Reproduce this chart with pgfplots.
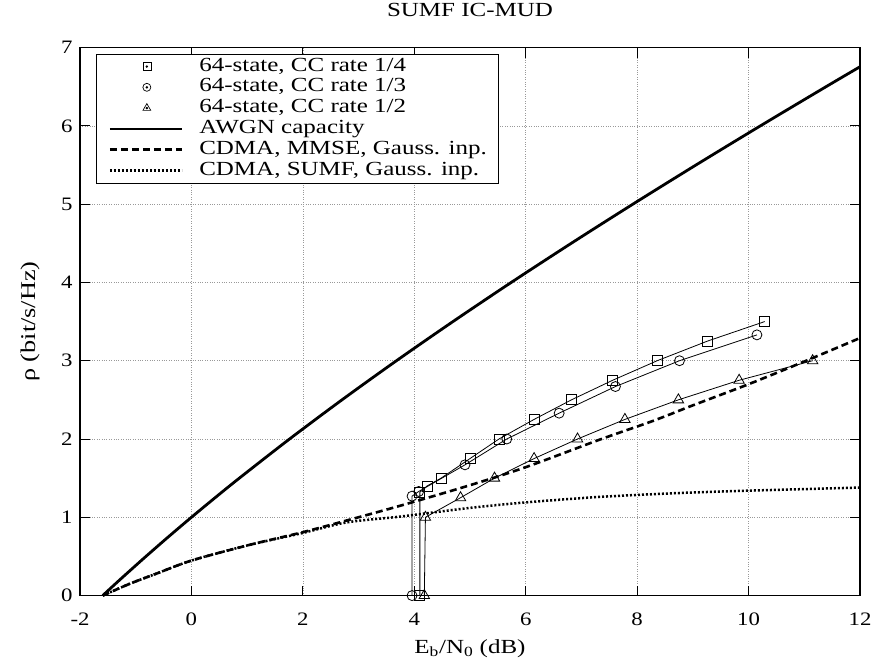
\documentclass[border=0pt]{standalone}
\usepackage{fontspec}
\setmainfont{Liberation Serif}
\usepackage{pgfplots}
\pgfplotsset{compat=1.18}

% the reference text is a little wider than plain Times
\newcommand{\wide}[1]{\scalebox{1.25}[1]{#1}}

% legend shows only a small mark with a dot in it
\pgfplotsset{
    markleg/.style={legend image code/.code={%
        \draw[##1, mark size=#1, line width=0.7pt] plot coordinates {(37pt,0pt)};
        \fill (37pt,0pt) circle (0.8pt);}},
}

% rate 1/4, 1/3, 1/2 convolutional codes (64-state)
\pgfplotstableread{
x y
4.10 0
4.10 1.32
4.23 1.40
4.48 1.50
5.00 1.75
5.52 2.00
6.15 2.25
6.82 2.50
7.56 2.75
8.36 3.00
9.26 3.25
10.29 3.50
}\rquarter
\pgfplotstableread{
x y
3.96 0
3.96 1.27
4.08 1.33
4.91 1.67
5.66 2.00
6.60 2.33
7.61 2.67
8.76 3.00
10.15 3.33
}\rthird
\pgfplotstableread{
x y
4.18 0
4.20 1.00
4.83 1.25
5.44 1.50
6.15 1.75
6.93 2.00
7.78 2.25
8.74 2.50
9.83 2.75
11.15 3.00
}\rhalf

\begin{document}
\begin{tikzpicture}
\begin{axis}[
    scale only axis,
    width=780pt, height=548pt,
    xmin=-2, xmax=12, ymin=0, ymax=7,
    xtick={-2,0,...,12}, ytick={0,1,...,7},
    tick align=inside,
    major tick length=10pt,
    tick style={black, line width=0.8pt},
    axis line style={line width=1.3pt},
    grid=major,
    grid style={dotted, gray!80, line width=0.7pt},
    tick label style={font=\fontsize{19}{19}\selectfont},
    xticklabel={\scalebox{1.2}[1]{\pgfmathprintnumber[assume math mode=true]{\tick}}},
    yticklabel={\scalebox{1.2}[1]{\pgfmathprintnumber[assume math mode=true]{\tick}}},
    xticklabel style={anchor=base, yshift=-30pt},
    yticklabel style={xshift=-4pt},
    title={\wide{SUMF IC-MUD}},
    title style={font=\fontsize{20}{20}\selectfont, at={(0.5,1)}, anchor=base, yshift=25pt},
    xlabel={\wide{E\textsubscript{b}/N\textsubscript{0} (dB)}},
    xlabel style={font=\fontsize{20}{20}\selectfont, at={(axis description cs:0.5,0)}, anchor=base, yshift=-58pt},
    ylabel={\wide{ρ (bit/s/Hz)}},
    ylabel style={font=\fontsize{21}{21}\selectfont, at={(axis description cs:-0.064,0.5)}, anchor=center},
    clip=false,
    legend style={at={(0,1)}, anchor=north west, xshift=16pt, yshift=-6pt,
        draw=black, line width=0.9pt, fill=white,
        font=\fontsize{20}{20}\selectfont,
        inner xsep=12pt, inner ysep=3pt,
        nodes={inner xsep=0pt, inner ysep=0pt, text height=14pt, text depth=5pt},
        /tikz/every odd column/.append style={column sep=16pt},
        row sep=1.8pt},
    legend cell align=left,
    legend image code/.code={\draw[#1] (0pt,0pt) -- (72pt,0pt);},
]
\addplot[black, line width=0.8pt, mark=square, mark size=5pt, markleg=4pt]
    table {\rquarter};
\addlegendentry{\wide{64-state, CC rate 1/4}}
\addplot[black, line width=0.8pt, mark=o, mark size=5pt, markleg=4pt]
    table {\rthird};
\addlegendentry{\wide{64-state, CC rate 1/3}}
\addplot[black, line width=0.8pt, mark=triangle, mark size=6pt, markleg=4.5pt]
    table {\rhalf};
\addlegendentry{\wide{64-state, CC rate 1/2}}
\addplot[black, line width=2.8pt, smooth] coordinates {
    (-1.592,0) (-1.441,0.1) (-1.210,0.25) (-0.817,0.5) (-0.414,0.75) (0,1)
    (0.425,1.25) (0.860,1.5) (1.761,2) (2.702,2.5) (3.680,3) (4.694,3.5)
    (5.740,4) (6.818,4.5) (7.924,5) (9.056,5.5) (10.212,6) (11.390,6.5) (12.0,6.755)
};
\addlegendentry{\wide{AWGN capacity}}
\addplot[black, line width=2.6pt, dash pattern=on 7pt off 4pt, smooth] coordinates {
    (-1.592,0) (-1.11,0.15) (-0.63,0.28) (0,0.447) (1,0.64) (2,0.81) (2.79,0.96)
    (3.76,1.15) (5,1.41) (6,1.64) (7.32,1.99) (8.28,2.23) (9,2.43) (10,2.70)
    (11,2.99) (12,3.29)
};
\addlegendentry{\wide{CDMA, MMSE, Gauss. inp.}\hspace{48pt}}
\addplot[black, line width=2.5pt, dash pattern=on 2pt off 2pt, smooth] coordinates {
    (-1.592,0) (-1.11,0.15) (-0.63,0.28) (0,0.447) (1,0.64) (2,0.80) (2.79,0.935)
    (3.76,1.01) (5,1.12) (6,1.19) (7.32,1.26) (8.76,1.31) (10,1.34) (11,1.36) (12,1.38)
};
\addlegendentry{\wide{CDMA, SUMF, Gauss. inp.}}
\end{axis}
\path (current axis.south west) ++(-80pt,-73pt) (current axis.north east) ++(17pt,47pt);
\end{tikzpicture}
\end{document}
